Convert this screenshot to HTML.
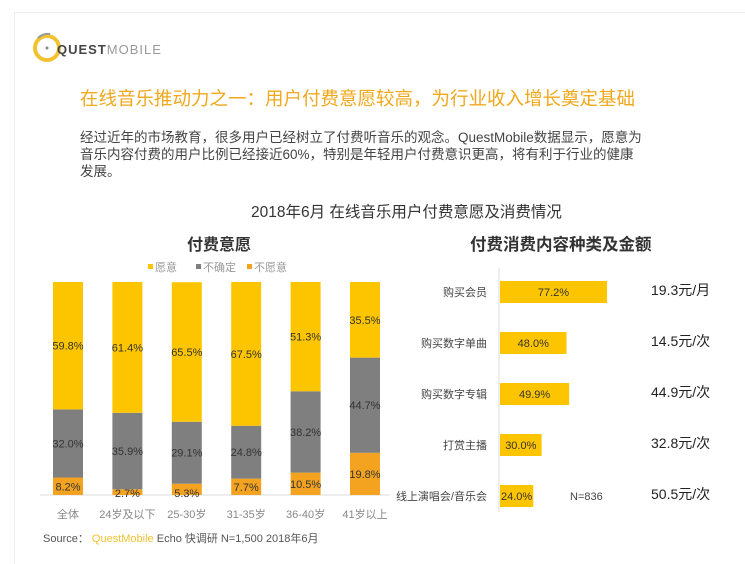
<!DOCTYPE html>
<html style="overflow:hidden"><head><meta charset="utf-8"><style>
body{margin:0;width:745px;height:564px;background:#fff;overflow:hidden;font-family:"Liberation Sans","Noto Sans CJK SC",sans-serif;position:relative}
.a{position:absolute;white-space:nowrap}
#card{position:absolute;left:14px;top:12px;width:731px;height:552px;border-left:1px solid #eee;border-top:1px solid #eee;box-sizing:border-box}
</style></head><body>
<div id="card"></div>
<svg class="a" style="left:30px;top:30px" width="36" height="36">
<circle cx="17" cy="18" r="12" fill="none" stroke="#f2c230" stroke-width="4"/><circle cx="17" cy="18" r="1.5" fill="#888"/><path d="M8 8 A14 14 0 0 1 20 4" stroke="#999" stroke-width="2" fill="none"/></svg>
<div class="a" style="left:57px;top:42px;font-size:13px;color:#444;letter-spacing:1px"><b>QUEST</b><span style="color:#999">MOBILE</span></div>
<div class="a" style="left:80px;top:85px;font-size:18.5px;color:#f0a81c">在线音乐推动力之一：用户付费意愿较高，为行业收入增长奠定基础</div>
<div class="a" style="left:80px;top:129px;font-size:13.5px;line-height:17px;color:#444;white-space:normal;width:562px">经过近年的市场教育，很多用户已经树立了付费听音乐的观念。QuestMobile数据显示，愿意为音乐内容付费的用户比例已经接近60%，特别是年轻用户付费意识更高，将有利于行业的健康发展。</div>
<div class="a" style="left:251px;top:200px;font-size:15.5px;color:#333">2018年6月 在线音乐用户付费意愿及消费情况</div>
<div class="a" style="left:187px;top:231px;font-size:16px;font-weight:bold;color:#333">付费意愿</div>
<div class="a" style="left:470px;top:231px;font-size:16.5px;font-weight:bold;color:#333">付费消费内容种类及金额</div>
<div class="a" style="left:43px;top:530px;font-size:11px;color:#555">Source： <span style="color:#f2c230">QuestMobile</span> Echo 快调研 N=1,500 2018年6月</div>
<svg id="c" class="a" style="left:0;top:0" width="745" height="564"></svg>
<script>
const cats=["全体","24岁及以下","25-30岁","31-35岁","36-40岁","41岁以上"];
const willing=[59.8,61.4,65.5,67.5,51.3,35.5];
const unsure=[32.0,35.9,29.1,24.8,38.2,44.7];
const unwilling=[8.2,2.7,5.3,7.7,10.5,19.8];
const items=["购买会员","购买数字单曲","购买数字专辑","打赏主播","线上演唱会/音乐会"];
const shares=[77.2,48.0,49.9,30.0,24.0];
const amounts=["19.3元/月","14.5元/次","44.9元/次","32.8元/次","50.5元/次"];
const svg=document.getElementById('c');const NS="http://www.w3.org/2000/svg";
function el(t,a,txt){const e=document.createElementNS(NS,t);for(const k in a)e.setAttribute(k,a[k]);if(txt!=null)e.textContent=txt;svg.appendChild(e);return e;}
const C={w:"#fdc500",u:"#7f7f7f",n:"#f4a320"};
const x0=68,dx=59.4,bw=30,yb=495,H=213;
const y=v=>yb-v/100*H;
[["愿意",C.w,148],["不确定",C.u,196],["不愿意",C.n,247]].forEach(l=>{
let r=el('rect',{x:l[2],y:264,width:5,height:5,fill:l[1]});


let t=el('text',{x:l[2]+7,y:271,'font-size':11,fill:'#999'},l[0]);

});
let ax=el('line',{x1:40,x2:390,y1:yb,y2:yb,stroke:'#ddd'});


cats.forEach((c,i)=>{const cx=x0+i*dx;let base=0;
[[unwilling[i],C.n,'bar-unwilling'],[unsure[i],C.u,'bar-unsure'],[willing[i],C.w,'bar-willing']].forEach(s=>{
const top=y(base+s[0]),bot=y(base);
let r=el('rect',{x:cx-bw/2,y:top,width:bw,height:bot-top,fill:s[1]});


let ty=(top+bot)/2+4;if(s[2]=='bar-unwilling'&&bot-top<12)ty=bot+2;
let t=el('text',{x:cx,y:ty,'font-size':11,fill:'#333','text-anchor':'middle'},s[0].toFixed(1)+'%');


base+=s[0];});
let t=el('text',{x:cx,y:518,'font-size':11,fill:'#888','text-anchor':'middle'},c);

});
const hx=499,sc=1.386,ry0=292,rdy=51;
let ax2=el('line',{x1:hx,x2:hx,y1:268,y2:512,stroke:'#ddd'});


items.forEach((it,i)=>{const cy=ry0+i*rdy,w=shares[i]*sc;
let r=el('rect',{x:hx+1,y:cy-11,width:w,height:22,fill:C.w});


let t=el('text',{x:hx+1+w/2,y:cy+4,'font-size':11,fill:'#333','text-anchor':'middle'},shares[i].toFixed(1)+'%');


let l=el('text',{x:487,y:cy+4,'font-size':11,fill:'#444','text-anchor':'end'},it);


let a=el('text',{x:651,y:cy+3,'font-size':14,fill:'#222'},amounts[i]);

});
let n=el('text',{x:570,y:500,'font-size':11,fill:'#444'},'N=836');


</script>
</body></html>
